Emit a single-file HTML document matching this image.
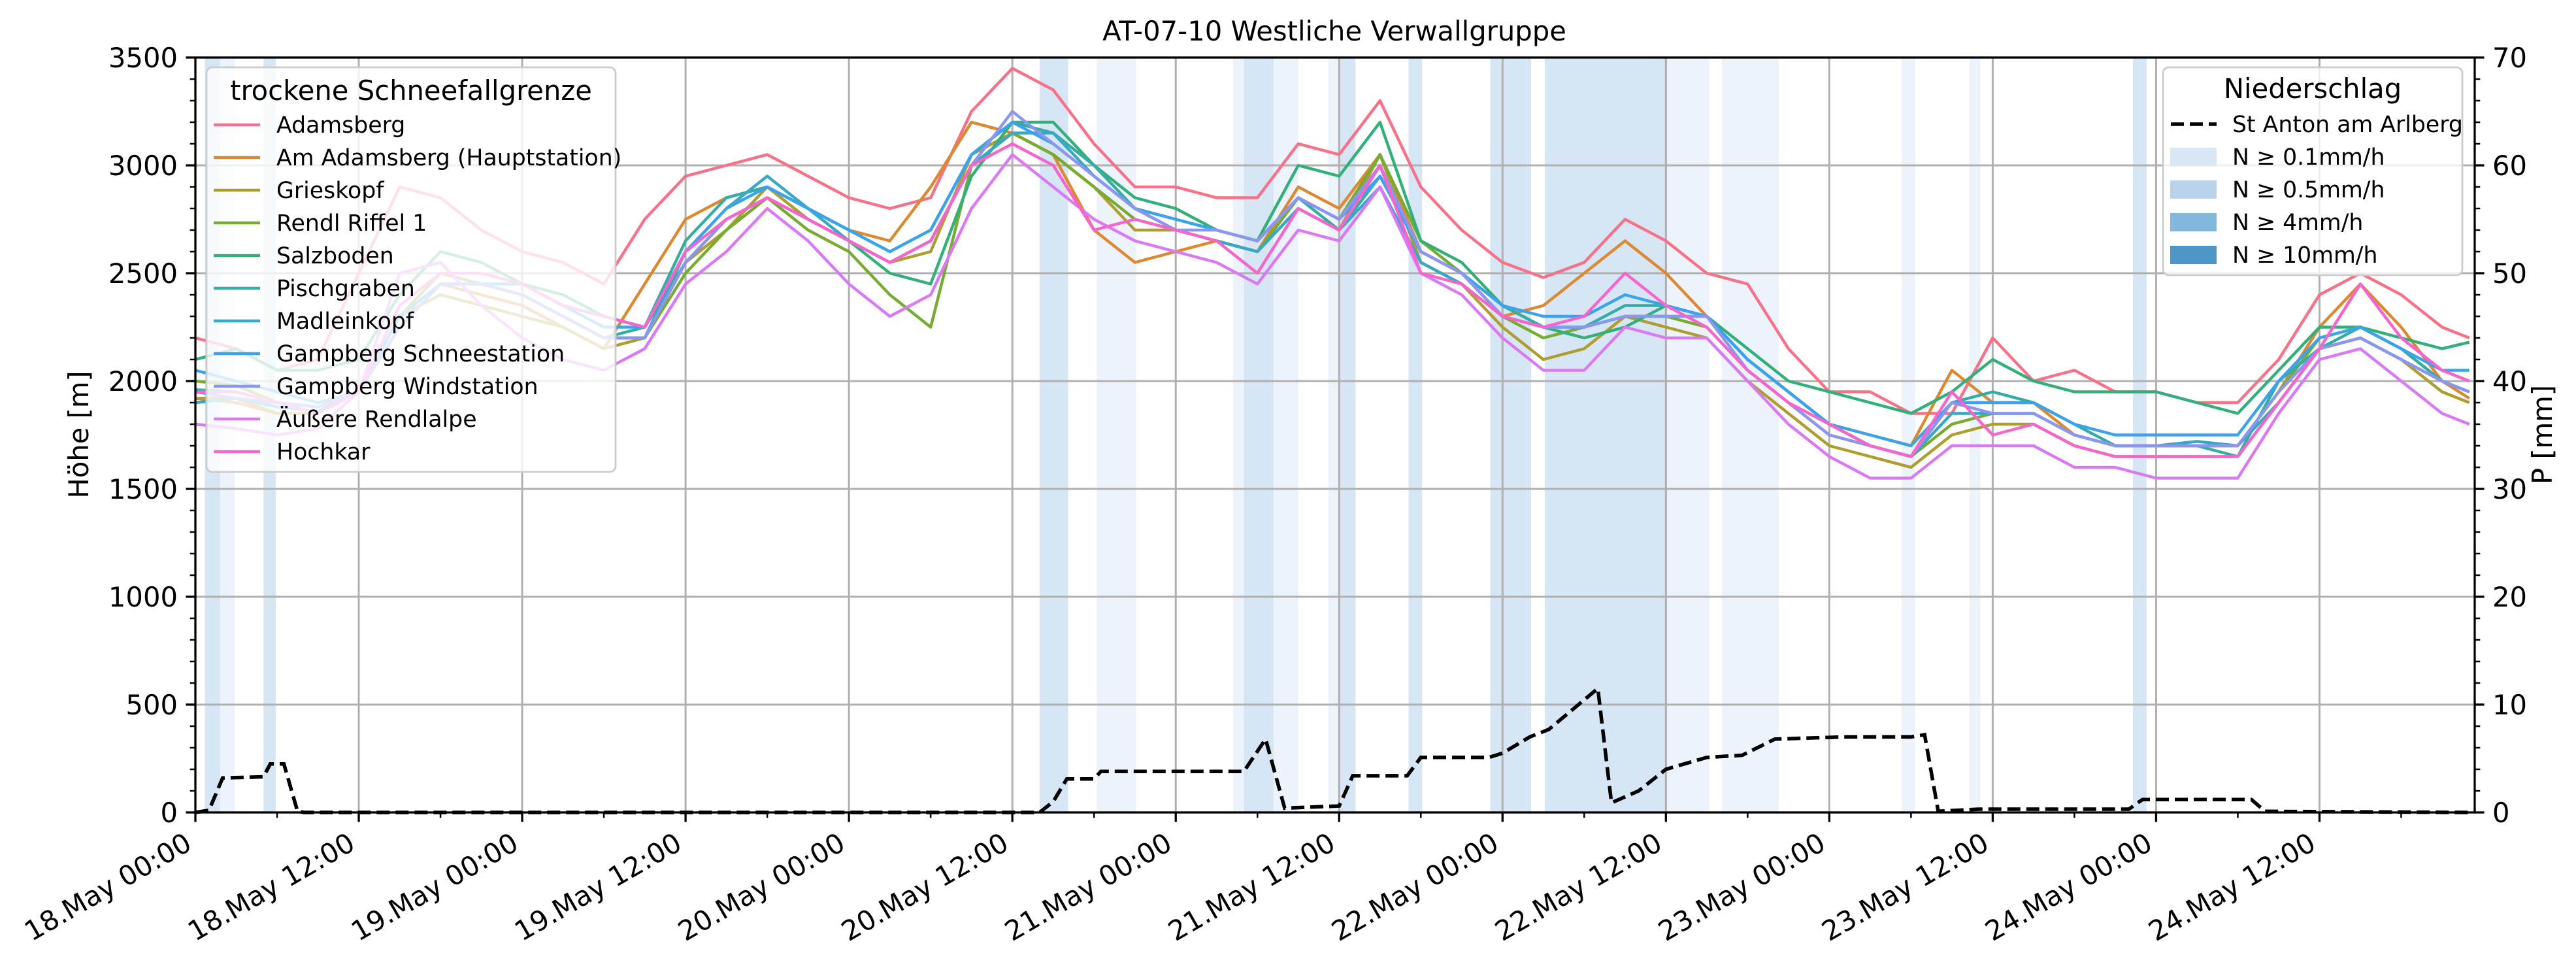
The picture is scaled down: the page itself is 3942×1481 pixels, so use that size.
<!DOCTYPE html>
<html><head><meta charset="utf-8">
<style>
html,body{margin:0;padding:0;background:#fff;}
svg{display:block;font-family:"DejaVu Sans","Liberation Sans",sans-serif;}
</style></head>
<body>
<svg id="chart" width="3942" height="1481" viewBox="0 0 3942 1481" xmlns="http://www.w3.org/2000/svg">
<text x="2042" y="62" font-size="41.7" text-anchor="middle">AT-07-10 Westliche Verwallgruppe</text>
<g id="bands"></g>
<g id="grid"></g>
<g id="series"></g>
<g id="precip"></g>
<g id="axes"></g>
<g id="legends"></g>
</svg>
<script>
// ---- data ----
const hours = [0,3,6,9,12,15,18,21,24,27,30,33,36,39,42,45,48,51,54,57,60,63,66,69,72,75,78,81,84,87,90,93,96,99,102,105,108,111,114,117,120,123,126,129,132,135,138,141,144,147,150,153,156,159,162,165,167];
const stationNames = ["Adamsberg","Am Adamsberg (Hauptstation)","Grieskopf","Rendl Riffel 1","Salzboden","Pischgraben","Madleinkopf","Gampberg Schneestation","Gampberg Windstation","Äußere Rendlalpe","Hochkar"];
const stationColors = ["#f77189","#dc8932","#ae9d31","#77ab31","#33b07a","#36ada4","#38a9c5","#3ba3ec","#8c95f0","#d97af4","#f565cc"];
const sAdamsberg = [2200,2150,2050,2100,2500,2900,2850,2700,2600,2550,2450,2750,2950,3000,3050,2950,2850,2800,2850,3250,3450,3350,3100,2900,2900,2850,2850,3100,3050,3300,2900,2700,2550,2480,2550,2750,2650,2500,2450,2150,1950,1950,1850,1850,2200,2000,2050,1950,1950,1900,1900,2100,2400,2500,2400,2250,2200];
const sAmAdamsberg = [1920,1900,1850,1850,1950,2300,2450,2400,2350,2250,2150,2450,2750,2850,2900,2800,2700,2650,2900,3200,3150,3050,2700,2550,2600,2650,2600,2900,2800,3050,2600,2500,2300,2350,2500,2650,2500,2300,2100,1950,1800,1750,1700,2050,1900,1900,1750,1700,1700,1700,1700,1950,2250,2450,2250,2000,1920];
const sGrieskopf = [1920,1920,1850,1850,1950,2300,2400,2350,2300,2250,2150,2200,2550,2700,2900,2750,2650,2550,2600,3050,3150,3050,2900,2700,2700,2650,2600,2800,2700,3050,2550,2450,2250,2100,2150,2300,2250,2200,2000,1850,1700,1650,1600,1750,1800,1800,1700,1650,1650,1650,1650,1900,2150,2200,2100,1950,1900];
const sRendl = [2000,1980,1900,1880,1950,2300,2500,2450,2400,2300,2200,2200,2500,2700,2850,2700,2600,2400,2250,3000,3150,3050,2900,2750,2700,2650,2600,2850,2750,3050,2650,2500,2300,2200,2250,2300,2300,2250,2050,1900,1750,1700,1650,1800,1850,1850,1750,1700,1700,1700,1700,1950,2200,2250,2150,2000,1950];
const sSalzboden = [2100,2150,2050,2050,2100,2400,2600,2550,2450,2400,2300,2250,2550,2750,2850,2750,2650,2500,2450,2950,3200,3200,3000,2850,2800,2700,2650,3000,2950,3200,2650,2550,2350,2250,2200,2250,2350,2300,2150,2000,1950,1900,1850,1950,2100,2000,1950,1950,1950,1900,1850,2050,2250,2250,2200,2150,2180];
const sPischgraben = [1960,1950,1900,1880,1950,2250,2450,2450,2400,2300,2200,2250,2650,2850,2900,2800,2700,2600,2700,3050,3200,3150,3000,2800,2750,2700,2650,2850,2700,2950,2600,2500,2350,2250,2250,2350,2350,2300,2100,1950,1800,1700,1650,1900,1950,1900,1800,1700,1700,1700,1650,2000,2150,2250,2150,2000,1950];
const sMadleinkopf = [1900,1920,1880,1860,1950,2250,2450,2450,2400,2300,2200,2200,2600,2800,2950,2800,2650,2550,2650,3000,3150,3150,2950,2800,2700,2650,2600,2800,2700,2900,2550,2450,2300,2250,2250,2300,2300,2300,2100,1950,1800,1700,1650,1850,1850,1850,1750,1700,1700,1720,1700,1900,2150,2200,2100,2000,1950];
const sGampSchnee = [2050,2000,1950,1900,1950,2300,2450,2450,2450,2350,2250,2250,2600,2800,2900,2800,2700,2600,2700,3050,3200,3100,2950,2800,2750,2700,2650,2850,2750,2950,2600,2500,2350,2300,2300,2400,2350,2300,2100,1950,1800,1750,1700,1900,1900,1900,1800,1750,1750,1750,1750,2000,2200,2250,2150,2050,2050];
const sGampWind = [1950,1920,1900,1880,1950,2250,2450,2450,2400,2300,2200,2200,2550,2750,2850,2750,2650,2550,2650,3000,3250,3100,2950,2800,2700,2700,2650,2850,2750,3000,2600,2500,2300,2250,2250,2300,2300,2300,2050,1900,1750,1700,1650,1900,1850,1850,1750,1700,1700,1700,1700,1950,2150,2200,2100,2000,1950];
const sAeussere = [1800,1780,1750,1780,1950,2500,2550,2350,2200,2100,2050,2150,2450,2600,2800,2650,2450,2300,2400,2800,3050,2900,2750,2650,2600,2550,2450,2700,2650,2900,2500,2400,2200,2050,2050,2250,2200,2200,2000,1800,1650,1550,1550,1700,1700,1700,1600,1600,1550,1550,1550,1850,2100,2150,2000,1850,1800];
const sHochkar = [1950,1950,1900,1850,1950,2350,2500,2500,2450,2350,2300,2250,2600,2750,2850,2750,2650,2550,2650,3000,3100,3000,2700,2750,2700,2650,2500,2800,2700,3000,2500,2450,2300,2250,2300,2500,2350,2250,2050,1900,1800,1700,1650,1950,1750,1800,1700,1650,1650,1650,1650,1900,2150,2450,2200,2050,2000];
const seriesValues = [sAdamsberg,sAmAdamsberg,sGrieskopf,sRendl,sSalzboden,sPischgraben,sMadleinkopf,sGampSchnee,sGampWind,sAeussere,sHochkar];
const precipHours = [0,1,2,5,5.5,6.5,7.5,8,62,63,64,66,66.5,77,78.6,80,84,85,89,90,95,96,98,99.4,103,104,106,108,111,113.6,116,121,126,127,128,131,142,143,151,152,167];
const precipValues = [0,0.2,3.2,3.3,4.5,4.5,0.1,0,0,1,3.1,3.1,3.8,3.8,6.8,0.4,0.6,3.4,3.4,5.1,5.1,5.5,7.0,7.7,11.5,0.9,2,4,5.1,5.3,6.8,7.0,7.0,7.2,0.1,0.3,0.3,1.2,1.2,0.1,0];
const bandStart = [0.7,1.8,5.0,62.0,66.2,76.2,77.0,79.2,83.2,84.0,89.1,95.1,99.1,108.1,112.1,125.3,130.3,142.3];
const bandEnd   = [1.8,2.9,5.9,64.1,69.1,77.0,79.2,81.0,84.0,85.2,90.1,98.1,108.1,111.2,116.3,126.3,131.1,143.3];
const bandLevel = [1,0,1,1,0,0,1,0,0,1,1,1,1,0,0,0,0,1];
const yTicksLeft = [0,500,1000,1500,2000,2500,3000,3500];
const yTicksRight = [0,10,20,30,40,50,60,70];
const xTickLabels = ["18.May 00:00","18.May 12:00","19.May 00:00","19.May 12:00","20.May 00:00","20.May 12:00","21.May 00:00","21.May 12:00","22.May 00:00","22.May 12:00","23.May 00:00","23.May 12:00","24.May 00:00","24.May 12:00"];

// ---- layout ----
const L=299,R=3787,T=88,B=1243, XMAX=167.4;
const xs=h=>L+(R-L)*h/XMAX;
const yl=v=>B-(B-T)*v/3500;
const yr=v=>B-(B-T)*v/70;
const NS="http://www.w3.org/2000/svg";
function mk(tag,attrs,parent){const e=document.createElementNS(NS,tag);for(const k in attrs)e.setAttribute(k,attrs[k]);parent.appendChild(e);return e;}
const gB=document.getElementById('bands'),gG=document.getElementById('grid'),gS=document.getElementById('series'),gP=document.getElementById('precip'),gA=document.getElementById('axes'),gLg=document.getElementById('legends');

// bands
const bandColors=["#ecf3fb","#d6e6f4"];
for(let i=0;i<bandStart.length;i++){
  const r=mk('rect',{x:xs(bandStart[i]),y:T,width:xs(bandEnd[i])-xs(bandStart[i]),height:B-T,fill:bandColors[bandLevel[i]]},gB);
  
  
}
// grid
yTicksLeft.forEach(v=>{const l=mk('line',{x1:L,x2:R,y1:yl(v),y2:yl(v),stroke:'#b0b0b0','stroke-width':3},gG);
  
  });
xTickLabels.forEach((t,i)=>{const x=xs(i*12);const l=mk('line',{x1:x,x2:x,y1:T,y2:B,stroke:'#b0b0b0','stroke-width':3},gG);
  
  });
// series
seriesValues.forEach((vals,si)=>{
  let d='';
  const n=Math.min(vals.length,hours.length);
  for(let i=0;i<n;i++){d+=(i?'L':'M')+xs(hours[i]).toFixed(1)+','+yl(vals[i]).toFixed(1);}
  const p=mk('path',{d:d,fill:'none',stroke:stationColors[si],'stroke-width':4.5,'stroke-linejoin':'round'},gS);
  
  
});
// precip line
{let d='';precipHours.forEach((h,i)=>{d+=(i?'L':'M')+xs(h).toFixed(1)+','+yr(precipValues[i]).toFixed(1);});
 const p=mk('path',{d:d,fill:'none',stroke:'#000','stroke-width':5.5,'stroke-dasharray':'20,9'},gP);
 
 }
// axes frame
{const f=mk('rect',{x:L,y:T,width:R-L,height:B-T,fill:'none',stroke:'#000','stroke-width':3.3},gA);
 
 }
// left ticks
for(let v=0;v<=3500;v+=100){const major=v%500===0;mk('line',{x1:L,x2:L-(major?14.6:8.3),y1:yl(v),y2:yl(v),stroke:'#000','stroke-width':major?3.3:2.5},gA);}
yTicksLeft.forEach(v=>{const t=mk('text',{x:L-27,y:yl(v)+15,'font-size':41.7,'text-anchor':'end'},gA);t.textContent=v;
  
  });
// right ticks
for(let v=0;v<=70;v+=2){const major=v%10===0;mk('line',{x1:R,x2:R+(major?14.6:8.3),y1:yr(v),y2:yr(v),stroke:'#000','stroke-width':major?3.3:2.5},gA);}
yTicksRight.forEach(v=>{const t=mk('text',{x:R+27,y:yr(v)+15,'font-size':41.7,'text-anchor':'start'},gA);t.textContent=v;
  
  });
// x ticks
for(let h=0;h<=XMAX;h+=6){const major=h%12===0;mk('line',{x1:xs(h),x2:xs(h),y1:B,y2:B+(major?14.6:8.3),stroke:'#000','stroke-width':major?3.3:2.5},gA);}
xTickLabels.forEach((s,i)=>{const x=xs(i*12)-18;const t=mk('text',{transform:`translate(${x},1272) rotate(-30)`,x:0,y:30,'font-size':41.7,'text-anchor':'end'},gA);t.textContent=s;
  
  });
// axis titles
{const t=mk('text',{transform:'translate(135,665) rotate(-90)','font-size':41.7,'text-anchor':'middle'},gA);t.textContent='Höhe [m]';
 }
{const t=mk('text',{transform:'translate(3905,665) rotate(-90)','font-size':41.7,'text-anchor':'middle'},gA);t.textContent='P [mm]';
 }

// legend 1
{const g=mk('g',{},gLg);
 mk('rect',{x:316,y:103,width:626,height:619,rx:9,fill:'rgba(255,255,255,0.8)',stroke:'#cccccc','stroke-width':2.8},g);
 const tt=mk('text',{x:629,y:153,'font-size':41.7,'text-anchor':'middle'},g);tt.textContent='trockene Schneefallgrenze';
 stationNames.forEach((n,i)=>{const y=191+50*i;
  const ln=mk('line',{x1:327,x2:398,y1:y,y2:y,stroke:stationColors[i],'stroke-width':4.5},g);
  
  const t=mk('text',{x:423,y:y+12,'font-size':34.7},g);t.textContent=n;
  });}
// legend 2
{const g=mk('g',{},gLg);
 mk('rect',{x:3310,y:103,width:458,height:318,rx:9,fill:'rgba(255,255,255,0.8)',stroke:'#cccccc','stroke-width':2.8},g);
 const tt=mk('text',{x:3539,y:150,'font-size':41.7,'text-anchor':'middle'},g);tt.textContent='Niederschlag';
 mk('line',{x1:3322,x2:3392,y1:190,y2:190,stroke:'#000','stroke-width':5.5,'stroke-dasharray':'20,9'},g);
 const t0=mk('text',{x:3416,y:202,'font-size':34.7},g);t0.textContent='St Anton am Arlberg';
 
 const pc=["#d9e7f5","#b9d4ea","#82b8db","#4d97c8"],pl=["N ≥ 0.1mm/h","N ≥ 0.5mm/h","N ≥ 4mm/h","N ≥ 10mm/h"];
 pc.forEach((c,i)=>{const y=240+50*i;
  const r=mk('rect',{x:3321,y:y-14,width:71,height:28,fill:c},g);
  
  const t=mk('text',{x:3416,y:y+12,'font-size':34.7},g);t.textContent=pl[i];
  });}
</script>
</body></html>
